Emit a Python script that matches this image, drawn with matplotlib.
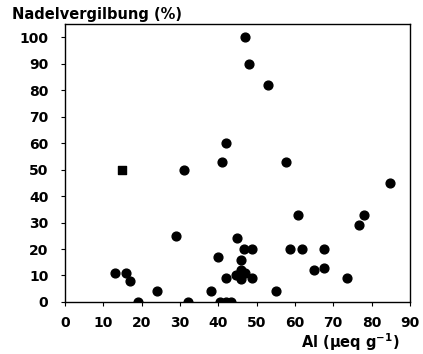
import matplotlib
matplotlib.use('Agg')
import matplotlib.pyplot as plt

# Al content vs needle yellowing
al = [13, 16, 17, 19, 24, 29, 31, 32, 38, 40, 40.5, 41, 42, 42, 42, 43.3,
      44.7, 44.8, 45.8, 45.8, 45.8, 46.7, 46.9, 47, 48, 48.9, 48.9, 53,
      55, 57.8, 58.7, 60.9, 61.9, 65, 67.7, 67.7, 73.7, 76.7, 77.9, 84.7]
yellow = [11, 11, 8, 0, 4, 25, 50, 0, 4, 17, 0, 53, 60, 0, 9, 0,
          10, 24, 16, 12, 8.5, 20, 11, 100, 90, 20, 9, 82,
          4, 53, 20, 33, 20, 12, 20, 13, 9, 29, 33, 45]

# single square marker
sq_al = [15]
sq_yellow = [50]

xticks = list(range(0, 100, 10))
yticks = list(range(0, 110, 10))

plt.rcParams['font.family'] = ['DejaVu Sans']
plt.rcParams['font.weight'] = 'bold'
plt.rcParams['mathtext.fontset'] = 'dejavusans'

fig = plt.figure(figsize=(4.23, 3.54), dpi=100)
ax = fig.add_axes([0.1537, 0.147, 0.8153, 0.785])

ax.scatter(al, yellow, s=40, color='black', marker='o', zorder=3)
ax.scatter(sq_al, sq_yellow, s=32, color='black', marker='s', zorder=3)

ax.set_xlim(0, 90)
ax.set_ylim(0, 105)
ax.set_xticks(xticks)
ax.set_yticks(yticks)
ax.tick_params(direction='out', length=3, width=0.8, labelsize=10)
ax.tick_params(axis='y', pad=9)
ax.tick_params(axis='x', pad=7)
plt.setp(ax.get_xticklabels() + ax.get_yticklabels(), fontweight='heavy')
for s in ax.spines.values():
    s.set_linewidth(1.0)

fig.text(0.028, 0.958, 'Nadelvergilbung (%)', fontsize=10.5, fontweight='bold',
         ha='left', va='center')
fig.text(0.945, 0.033, r'Al ($\mathbf{\mu}$eq g$^{\mathbf{-1}}$)', fontsize=10.5,
         fontweight='bold', ha='right', va='center')

fig.savefig('out.png', dpi=100)
